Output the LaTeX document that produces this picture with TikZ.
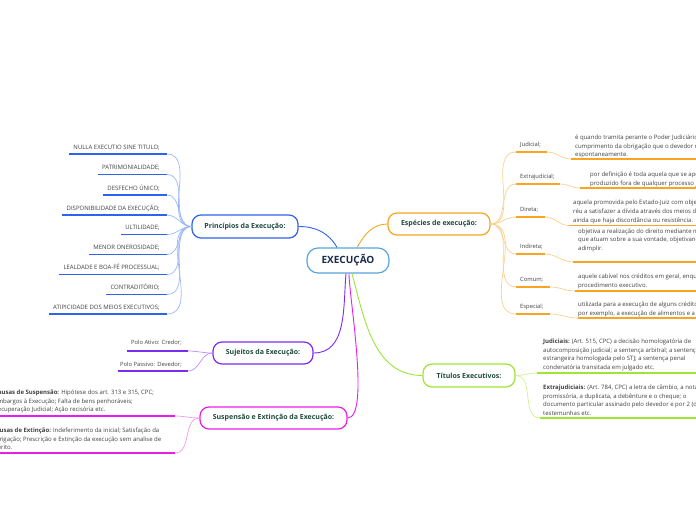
\documentclass[tikz,border=0pt]{standalone}
\usepackage{fontspec}
\setmainfont{Open Sans}
\definecolor{bluedk}{HTML}{2F62EE}
\definecolor{bluelt}{HTML}{9DB8F6}
\definecolor{orng}{HTML}{F7A523}
\definecolor{orlt}{HTML}{FBD08E}
\definecolor{limec}{HTML}{9DE635}
\definecolor{limelt}{HTML}{CCF292}
\definecolor{purp}{HTML}{7A2DF0}
\definecolor{purlt}{HTML}{B892F8}
\definecolor{mag}{HTML}{E81EE8}
\definecolor{maglt}{HTML}{F296F2}
\definecolor{ctrb}{HTML}{5BA4DE}
\definecolor{headc}{HTML}{1F4B3B}
\definecolor{ctrtext}{HTML}{1B2B4B}
\definecolor{bodyc}{HTML}{404040}
\begin{document}
\begin{tikzpicture}[x=1pt,y=-1pt,
  title/.style={draw, rounded corners=9pt, line width=1.2pt, fill=white,
    font=\fontsize{7}{8}\selectfont\bfseries, text=headc, inner sep=0pt, minimum height=22pt},
  leaf/.style={font=\fontsize{5.8}{8}\selectfont, text=bodyc, inner sep=0pt},
  desc/.style={leaf, align=left, font=\fontsize{6}{8.7}\selectfont},
  uline/.style={line width=1.8pt},
  conn/.style={line width=0.9pt}]
\useasboundingbox (0,0) rectangle (696,520);
\clip (0,0) rectangle (696,520);

% ---------- central and main nodes ----------
\node[draw=ctrb, line width=1.2pt, rounded corners=11pt, fill=white, minimum width=82pt, minimum height=25pt,
  inner sep=0pt, font=\fontsize{10}{12}\selectfont\bfseries, text=ctrtext] (ctr) at (348,260.5) {EXECUÇÃO};
\node[title, draw=bluedk, minimum width=106pt, minimum height=23pt] (prin) at (245,226.5) {Princípios da Execução:};
\node[title, draw=orng, minimum width=102pt] (esp) at (439,224) {Espécies de execução:};
\node[title, draw=limec, minimum width=92pt, minimum height=23pt] (tit) at (469,375.5) {Títulos Executivos:};
\node[title, draw=purp, minimum width=100pt] (suj) at (263,353) {Sujeitos da Execução:};
\node[title, draw=mag, minimum width=147pt] (sus) at (273.5,418) {Suspensão e Extinção da Execução:};

% main connectors
\draw[conn, bluedk] (prin.east) to[out=0,in=120] ([xshift=-11pt]ctr.north);
\draw[conn, orng] ([xshift=9pt]ctr.north) to[out=60,in=180] (esp.west);
\draw[conn, purp] ([xshift=-2pt]ctr.south) to[out=-95,in=0] (suj.east);
\draw[conn, mag] ([xshift=1pt]ctr.south) to[out=-90,in=0,looseness=0.4] (sus.east);
\draw[conn, limec] ([xshift=4pt]ctr.south) to[out=-75,in=180] (tit.west);

% ---------- Princípios leaves ----------
\foreach \i/\y/\t in {1/154/{NULLA EXECUTIO SINE TITULO;},
                      2/174.5/{PATRIMONIALIDADE;},
                      3/195/{DESFECHO ÚNICO;},
                      4/215/{DISPONIBILIDADE DA EXECUÇÃO;},
                      5/234.5/{ULTILIDADE;},
                      6/254.5/{MENOR ONEROSIDADE;},
                      7/274.5/{LEALDADE E BOA-FÉ PROCESSUAL;},
                      8/294.5/{CONTRADITÓRIO;},
                      9/314/{ATIPICIDADE DOS MEIOS EXECUTIVOS;}}{
  \node[leaf, anchor=base east, font=\fontsize{6}{7}\selectfont] (p\i) at (160,\y-5) {\t};
  \coordinate (pe\i) at (167,\y);
  \draw[uline, bluedk] ([xshift=-4pt]p\i.west |- pe\i) -- (pe\i);
  \draw[conn, bluelt, line width=0.7pt] (pe\i) to[out=0,in=180] (prin.west);
}

% ---------- Espécies leaves ----------
\foreach \i/\y/\xe/\t in {1/152/547/{Judicial;}, 2/184/560/{Extrajudicial;}, 3/217/545/{Direta;},
                          4/254/545/{Indireta;}, 5/287/550/{Comum;}, 6/314/550/{Especial;}}{
  \node[leaf, anchor=base west] (e\i) at (520,\y-5.5) {\t};
  \coordinate (es\i) at (516,\y);
  \coordinate (ee\i) at (\xe,\y);
  \draw[uline, orng] (es\i) -- (ee\i);
  \draw[conn, orlt, line width=0.7pt] (esp.east) to[out=0,in=180] (es\i);
}

\node[desc, anchor=north west] (d1) at (575,134.5) {é quando tramita perante o Poder Judiciário o\\cumprimento da obrigação que o devedor não\\espontaneamente.};
\node[desc, anchor=north west] (d2) at (590,171.5) {por definição é toda aquela que se apoia\\produzido fora de qualquer processo judicial};
\node[desc, anchor=north west] (d3) at (573,200) {aquela promovida pelo Estado-Juiz com objetivo\\réu a satisfazer a dívida através dos meios de\\ainda que haja discordância ou resistência.};
\node[desc, anchor=north west] (d4) at (578,228.5) {objetiva a realização do direito mediante medidas\\que atuam sobre a sua vontade, objetivando\\adimplir.};
\node[desc, anchor=north west] (d5) at (578,273.5) {aquele cabível nos créditos em geral, enquanto\\procedimento executivo.};
\node[desc, anchor=north west] (d6) at (578,301.5) {utilizada para a execução de alguns créditos,\\por exemplo, a execução de alimentos e a};

\foreach \i/\x/\y in {1/571/159, 2/580/188, 3/569/225.5, 4/573/262, 5/575/291, 6/578/318}{
  \coordinate (ds\i) at (\x,\y);
  \coordinate (dz\i) at (700,\y);
  \draw[uline, orng] (ds\i) -- (dz\i);
  \draw[conn, orlt, line width=0.7pt] (ee\i) to[out=0,in=180] (ds\i);
}

% ---------- Títulos leaves ----------
\node[desc, anchor=north west] (t1) at (543,338.5) {\textbf{Judiciais:} (Art. 515, CPC) a decisão homologatória de\\autocomposição judicial;  a sentença arbitral;  a sentença\\estrangeira homologada pelo STJ;  a sentença penal\\condenatória transitada em julgado etc.};
\node[desc, anchor=north west] (t2) at (543,384.5) {\textbf{Extrajudiciais:} (Art. 784, CPC) a letra de câmbio, a nota\\promissória, a duplicata, a debênture e o cheque;  o\\documento particular assinado pelo devedor e por 2 (duas)\\testemunhas etc.};
\coordinate (ts1) at (537,373);
\coordinate (ts2) at (540,418);
\coordinate (tz1) at (700,373);
\coordinate (tz2) at (700,418);
\draw[uline, limec] (ts1) -- (tz1);
\draw[uline, limec] (ts2) -- (tz2);
\draw[conn, limelt, line width=0.7pt] (tit.east) to[out=0,in=180] (ts1);
\draw[conn, limelt, line width=0.7pt] (tit.east) to[out=0,in=180] (ts2);

% ---------- Sujeitos leaves ----------
\node[leaf, anchor=base east] (s1) at (182,344.5) {Polo Ativo: Credor;};
\node[leaf, anchor=base east] (s2) at (182,366.5) {Polo Passivo: Devedor;};
\coordinate (se1) at (188,351);
\coordinate (se2) at (188,371);
\draw[uline, purp] ([xshift=-4pt]s1.west |- se1) -- (se1);
\draw[uline, purp] ([xshift=-2pt]s2.west |- se2) -- (se2);
\draw[conn, purlt, line width=0.7pt] (se1) to[out=0,in=180] (suj.west);
\draw[conn, purlt, line width=0.7pt] (se2) to[out=0,in=180] (suj.west);

% ---------- Suspensão leaves ----------
\node[desc, anchor=north west] (u1) at (-6,389.5) {\textbf{Causas de Suspensão:} Hipótese dos art. 313 e 315, CPC;\\Embargos à Execução; Falta de bens penhoráveis;\\Recuperação Judicial; Ação recisória etc.};
\node[desc, anchor=north west] (u2) at (-8,427.5) {\textbf{Causas de Extinção:} Indeferimento da inicial; Satisfação da\\obrigação;  Prescrição e Extinção da execução sem analise de\\mérito.};
\coordinate (ua1) at (-5,416);
\coordinate (ub1) at (175,416);
\coordinate (ua2) at (-5,453);
\coordinate (ub2) at (175,453);
\draw[uline, mag] (ua1) -- (ub1);
\draw[uline, mag] (ua2) -- (ub2);
\draw[conn, maglt, line width=0.7pt] (ub1) to[out=0,in=180] (sus.west);
\draw[conn, maglt, line width=0.7pt] (ub2) to[out=0,in=180] (sus.west);
\end{tikzpicture}
\end{document}
